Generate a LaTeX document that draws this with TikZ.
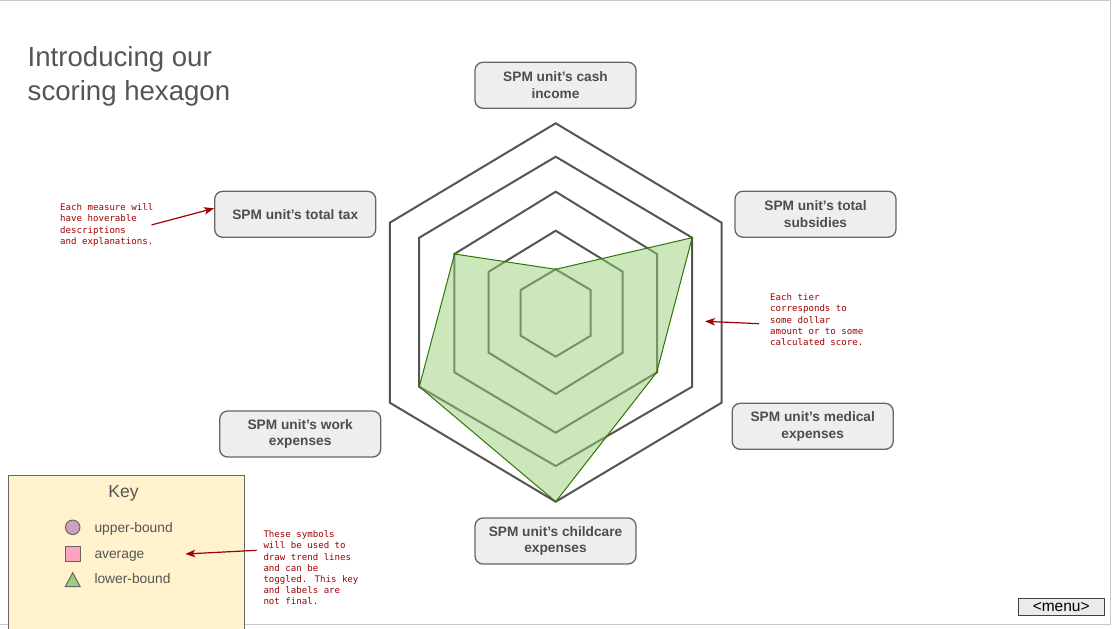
\documentclass[tikz,border=0pt]{standalone}
\usepackage{fontspec}
\setmainfont{Liberation Sans}
\newfontfamily\annofont{DejaVu Sans Mono}
\usetikzlibrary{arrows.meta}
\definecolor{hexgray}{HTML}{555555}
\definecolor{boxfill}{HTML}{EEEEEE}
\definecolor{boxline}{HTML}{666666}
\definecolor{boxtext}{HTML}{4D4D4D}
\definecolor{titlegray}{HTML}{555555}
\definecolor{greenfill}{HTML}{97D077}
\definecolor{greenline}{HTML}{2D7600}
\definecolor{annored}{HTML}{A00000}
\definecolor{keyfill}{HTML}{FFF2CC}
\definecolor{framegray}{HTML}{C8C8C8}
\definecolor{ubfill}{HTML}{CDA2BE}
\definecolor{avgfill}{HTML}{FFA3C3}
\definecolor{lbfill}{HTML}{97D077}
\definecolor{menufill}{HTML}{EBEBEB}
\tikzset{
  measurebox/.style={draw=boxline, fill=boxfill, line width=1.3pt, rounded corners=8pt,
    minimum width=161pt, minimum height=46pt, align=center, text=boxtext,
    font=\fontsize{13.7}{16.8}\selectfont\bfseries, inner sep=2pt},
  hexline/.style={draw=hexgray, line width=2pt},
  annotext/.style={text=annored, align=left, anchor=north west, inner sep=0pt,
    font=\annofont\fontsize{9.1}{11.2}\selectfont},
  annoarrow/.style={draw=annored, line width=1.2pt, -{Stealth[length=10pt,width=7.5pt,inset=2.5pt]}},
  keytext/.style={text=titlegray, anchor=base west, inner sep=0pt, font=\fontsize{13.8}{16}\selectfont},
  keymark/.style={draw=boxline, line width=1pt, inner sep=0pt},
}
\begin{document}
\begin{tikzpicture}[x=1pt,y=-1pt]
\useasboundingbox (0,0) rectangle (1112,629);
% frame
\draw[framegray, line width=1.3pt] (0,0.6) -- (1110.4,0.6) -- (1110.4,624.4) -- (0,624.4);

% title
\node[anchor=north west, inner sep=0pt, align=left, text=titlegray,
  font=\fontsize{27.6}{33.8}\selectfont] (title) at (27.5,46.3) {Introducing our\\scoring hexagon};

% hexagon rings: top/bottom/halfwidth/sidetop/sidebottom
\foreach \t/\b/\w/\st/\sb in {123.3/501.7/165.9/222.7/402.7, 156.7/466/136.5/237.7/386.7,
  191.7/432.7/101.3/254/372.3, 230.7/394/67/271.7/352.7, 269.3/356.7/35/290/335.7}{
  \draw[hexline] (555.7,\t) -- (555.7+\w,\st) -- (555.7+\w,\sb) -- (555.7,\b)
    -- (555.7-\w,\sb) -- (555.7-\w,\st) -- cycle;
}
% score polygon
\draw[draw=greenline, line width=1pt, fill=greenfill, fill opacity=0.5]
  (555.7,269.3) -- (692.2,237.7) -- (656.7,372.3) -- (555.7,501.7)
  -- (419.3,386.7) -- (454.5,254) -- cycle;

% measure boxes
\node[measurebox] (cash) at (555.5,85.3) {SPM unit’s cash\\income};
\node[measurebox] (subs) at (815.5,214.2) {SPM unit’s total\\subsidies};
\node[measurebox] (med) at (812.7,426.3) {SPM unit’s medical\\expenses};
\node[measurebox] (child) at (555.5,541) {SPM unit’s childcare\\expenses};
\node[measurebox] (work) at (300.2,434) {SPM unit’s work\\expenses};
\node[measurebox] (tax) at (295.2,214.3) {SPM unit’s total tax};

% annotations
\node[annotext] (hovernote) at (60,203.5) {Each measure will\\have hoverable\\descriptions\\and explanations.};
\draw[annoarrow] ([xshift=-2pt]hovernote.east) -- ([yshift=6pt]tax.west);

\node[annotext] (tiernote) at (770,293.5) {Each tier\\corresponds to\\some dollar\\amount or to some\\calculated score.};
\coordinate (tierstart) at (759,323.7);
\coordinate (tiertip) at (705,321.3);
\draw[annoarrow] (tierstart) -- (tiertip);

% key
\draw[draw=boxline, fill=keyfill, line width=1pt] (8.3,631) -- (8.3,475.7) -- (244.3,475.7) -- (244.3,631);
\node[text=titlegray, anchor=base, inner sep=0pt, font=\fontsize{17.5}{20}\selectfont] (keytitle) at (123.5,497.3) {Key};
\node[keymark, circle, fill=ubfill, minimum size=14.5pt] (ubmark) at (72.7,527.3) {};
\node[keytext] (ubtext) at (94.3,532.8) {upper-bound};
\node[keymark, rectangle, fill=avgfill, minimum size=14.3pt] (avgmark) at (72.9,553.9) {};
\node[keytext] (avgtext) at (94.3,558.3) {average};
\draw[keymark, fill=lbfill] (72.7,572.7) -- (80.2,586.7) -- (65.2,586.7) -- cycle;
\node[keytext] (lbtext) at (94.3,583.3) {lower-bound};

\node[annotext] (keynote) at (263.3,530.5) {These symbols\\will be used to\\draw trend lines\\and can be\\toggled. This key\\and labels are\\not final.};
\coordinate (keystart) at (256.7,550.3);
\coordinate (keytip) at (185.3,554);
\draw[annoarrow] (keystart) -- (keytip);

% menu button
\node[draw=black!75, fill=menufill, line width=1pt, minimum width=85.7pt, minimum height=16.3pt,
  inner sep=0pt, font=\fontsize{15.5}{16}\selectfont] (menu) at (1061.2,606.9) {<menu>};
\end{tikzpicture}
\end{document}
